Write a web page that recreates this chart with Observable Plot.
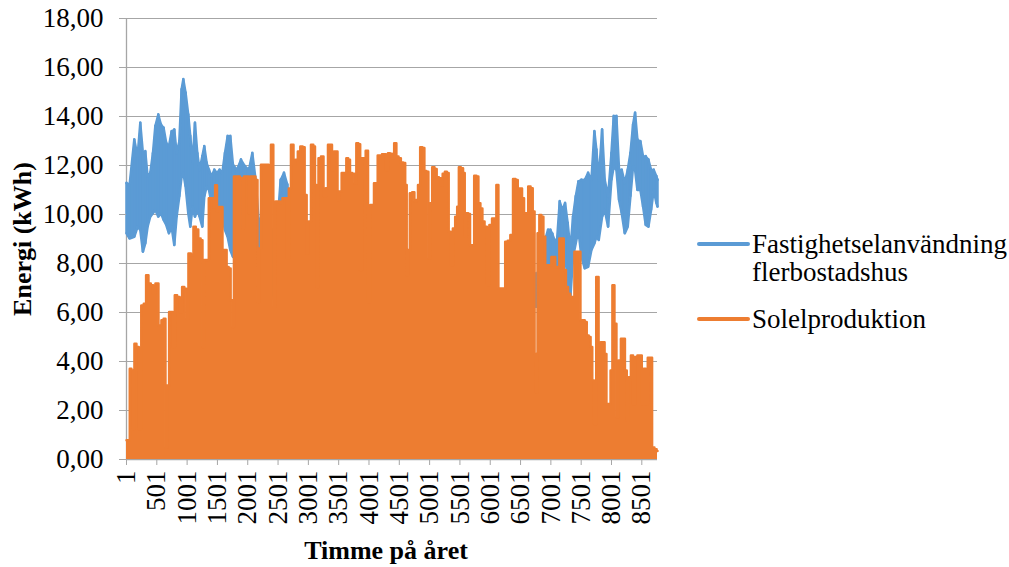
<!DOCTYPE html>
<html>
<head>
<meta charset="utf-8">
<script src="https://cdn.jsdelivr.net/npm/d3@7"></script>
<script src="https://cdn.jsdelivr.net/npm/@observablehq/plot@0.6"></script>
<style>
  html, body { margin: 0; padding: 0; background: #fff; }
  #wrap { position: relative; width: 1009px; height: 567px; font-family: 'Liberation Serif', serif; }
  #wrap svg { display: block; }
  .leg { position: absolute; left: 697px; font-family: 'Liberation Serif', serif; font-size: 27px; color: #000; line-height: 28px; }
  .leg .sw { position: absolute; left: 0; width: 53px; height: 3.5px; border-radius: 2px; }
  .leg .tx { position: absolute; left: 55px; white-space: nowrap; }
</style>
</head>
<body>
<div id="wrap"></div>
<script>
// ---- Data ----
const seriesNames = ["Fastighetselanvändning flerbostadshus", "Solelproduktion"];
const yTicks = [0, 2, 4, 6, 8, 10, 12, 14, 16, 18];
const xTicks = [1, 501, 1001, 1501, 2001, 2501, 3001, 3501, 4001, 4501, 5001, 5501, 6001, 6501, 7001, 7501, 8001, 8501];

// Solar production: daily peak envelope (hour of year, kWh)
const solarHour = [1,41,69,96,118,146,184,223,267,305,344,382,421,459,498,558,597,630,657,685,723,751,778,817,855,899,938,971,1004,1042,1086,1125,1163,1207,1240,1268,1301,1339,1378,1416,1449,1477,1510,1537,1570,1598,1636,1669,
1702,1735,1757,1790,1845,1900,1922,1955,1999,2027,2054,2109,2148,2175,2197,2241,2285,2329,2362,2406,2439,2483,2516,2555,2593,2632,2665,2692,2736,2775,2808,2846,2890,2923,2956,2989,3022,3066,3099,3121,3149,3187,3231,3270,3308,3341,3374,3407,3440,3473,
3490,3528,3572,3611,3644,3671,3704,3743,3776,3809,3842,3869,3897,3930,3963,4007,4040,4067,4100,4128,4161,4199,4232,4265,4298,4331,4364,4397,4436,4469,4507,4546,4584,4612,4634,4656,4694,4733,4766,4793,4826,4865,4898,4931,4964,4997,5024,5063,5101,5134,5173,5200,5233,
5272,5299,5332,5365,5404,5442,5470,5497,5536,5569,5591,5624,5651,5684,5717,5756,5789,5822,5855,5888,5926,5965,6009,6053,6086,6119,6152,6190,6229,6267,6311,6355,6399,6438,6471,6509,6542,6575,6608,6647,6685,6718,6746,6768,6795,6828,6861,6894,6922,6955,6993,7026,
7054,7092,7125,7158,7197,7230,7268,7301,7340,7373,7406,7439,7472,7505,7543,7576,7609,7642,7670,7697,7730,7769,7807,7840,7873,7901,7934,7972,8000,8033,8066,8099,8137,8176,8209,8236,8269,8302,8341,8374,8412,8445,8484,8517,8550,8583,8616,8654,8687,8731,8760];
const solarKWh = [0.79,0.79,3.70,3.63,1.24,4.72,4.59,1.24,6.29,6.36,7.52,7.18,7.11,6.77,7.18,5.47,5.68,5.75,0.49,3.02,6.02,6.02,4.59,6.70,6.63,6.02,7.04,6.97,5.75,8.41,8.34,9.50,9.39,9.02,8.95,4.59,8.14,8.14,10.66,10.66,10.31,11.19,10.12,10.31,10.31,8.55,8.55,7.86,
7.80,6.50,5.41,11.55,11.55,11.48,9.42,11.55,11.55,10.05,11.55,11.55,11.41,6.43,8.61,12.03,12.03,12.03,11.96,12.85,6.23,10.53,10.53,10.46,10.66,10.66,8.20,11.06,12.85,12.03,12.23,12.57,12.78,12.75,10.80,8.41,9.71,12.85,12.78,11.20,7.04,12.30,12.37,10.73,11.07,12.85,12.85,11.82,12.57,12.57,
10.59,10.94,11.69,11.69,12.30,12.23,11.69,11.66,11.28,12.91,12.87,7.73,12.30,12.30,12.60,6.43,10.39,10.39,11.28,11.28,12.41,12.41,12.46,12.46,11.82,12.50,12.48,12.30,12.91,12.37,12.30,12.12,12.10,11.20,7.52,8.55,10.87,10.91,10.53,10.59,11.20,12.75,12.71,11.78,11.75,8.20,10.46,11.93,11.86,11.52,11.48,11.20,11.66,
11.75,11.69,9.30,7.94,9.43,9.91,10.32,11.93,11.89,11.69,9.09,10.05,10.02,8.75,8.75,11.58,11.55,10.46,10.25,9.71,9.50,7.11,9.57,9.84,9.84,11.20,6.98,6.98,6.98,8.89,8.93,9.16,11.45,11.41,11.06,11.06,10.66,10.05,10.05,11.14,11.07,10.12,4.31,2.74,9.23,9.98,9.91,9.09,7.86,7.93,7.93,8.27,
8.27,7.86,7.86,9.02,9.02,7.73,7.04,6.77,6.63,6.63,8.48,8.48,8.48,5.68,5.68,5.61,5.06,5.00,4.59,3.22,1.45,7.45,4.04,4.79,4.79,4.31,2.27,2.27,3.63,7.11,5.54,1.72,4.04,4.93,4.93,3.63,1.58,3.36,4.25,2.27,4.18,4.25,4.25,2.27,3.70,2.27,4.15,4.15,0.49,0.42,0.35];

// Building electricity use: daily max / min envelope (hour of year, kWh)
const consHour = [1,52,129,184,228,272,311,349,393,437,476,525,569,613,657,701,745,789,828,872,910,938,976,1020,1053,1092,1130,1169,1207,1251,1284,1323,1361,1405,1449,1493,1537,1581,1625,1669,
1713,1757,1823,1889,1955,2021,2076,2131,2186,2241,2324,2395,2461,2544,2599,2654,2709,2791,
2900,3100,3300,3500,3700,3900,4100,4300,4500,4700,4900,5100,5300,5500,5700,5900,6100,6300,6500,6650,
6729,6784,6850,6955,6993,7026,
7059,7103,7147,7191,7235,7279,7323,7367,7411,7455,7505,7560,7615,7670,7719,7752,7791,7846,7890,7945,8000,8038,8082,8126,8170,8220,8269,8313,8357,8390,8429,8478,8522,8566,8610,8654,8698,8742,8760];
const consMax = [11.28,11.21,13.05,12.37,13.73,12.50,12.57,11.55,11.69,12.50,13.60,14.07,13.67,13.53,12.91,12.78,13.39,13.46,12.50,12.98,15.10,15.51,14.96,14.07,13.19,12.10,13.73,12.50,11.82,12.37,12.78,12.10,11.82,11.55,11.82,11.69,11.82,11.69,12.50,13.19,
13.19,12.03,11.82,12.23,11.96,11.82,12.50,11.41,9.57,10.05,9.78,9.37,8.61,11.41,11.69,11.21,7.73,7.45,
6.9,6.6,6.8,6.5,6.7,6.2,6.5,6.6,6.4,6.6,6.5,6.7,6.8,6.9,7.0,6.8,6.8,7.0,7.2,7.4,
7.59,7.59,8.50,9.37,9.37,9.20,
8.96,8.96,10.53,10.18,10.46,9.64,8.55,9.91,10.73,11.34,11.41,11.41,11.69,11.41,13.39,12.64,11.41,13.46,11.41,10.73,12.50,14.01,14.01,11.82,11.82,11.28,11.82,12.50,13.67,14.14,13.05,12.98,12.37,12.37,12.23,11.82,11.82,11.55,11.41];
const consMin = [9.23,9.02,9.09,9.50,9.37,8.48,8.82,9.50,9.91,10.05,10.18,9.91,10.05,9.78,9.57,9.23,9.50,8.75,9.91,10.73,11.55,11.69,11.14,10.05,9.50,10.32,9.91,10.18,9.91,9.50,10.73,11.14,11.00,10.46,10.18,10.32,10.05,9.91,9.37,9.09,
8.55,8.27,8.55,8.82,8.82,9.37,10.05,9.50,6.43,7.73,7.45,7.04,6.23,8.82,9.09,8.82,6.09,5.82,
5.6,5.4,5.5,5.3,5.5,5.1,5.3,5.4,5.2,5.4,5.3,5.5,5.6,5.6,5.8,5.6,5.7,5.9,6.0,6.1,
6.23,6.23,7.00,7.86,7.90,8.00,
8.27,6.84,7.73,8.27,8.48,7.18,6.63,8.27,8.82,9.37,8.27,7.80,7.86,8.55,8.82,9.09,8.96,9.91,10.18,9.50,11.41,11.96,11.82,10.59,10.05,9.23,9.50,10.73,11.96,11.82,11.00,11.00,10.32,9.57,9.50,10.18,11.00,10.46,10.32];

// ---- Tables built from the arrays ----
const solar = solarHour.map((h, i) => ({hour: h, kwh: solarKWh[i]}));
const cons = consHour.map((h, i) => ({hour: h, max: consMax[i], min: consMin[i]}));

const blue = "#5B9BD5", orange = "#ED7D31", grid = "#A6A6A6";
const fmt = d => d.toFixed(2).replace(".", ",");
const serif = "Liberation Serif";

const chart = Plot.plot({
  width: 1009,
  height: 567,
  marginLeft: 126,
  marginRight: 352,
  marginTop: 18,
  marginBottom: 108,
  style: {fontFamily: "'Liberation Serif', serif", fontSize: "27px", color: "#000", background: "#fff", overflow: "visible"},
  x: {domain: [1, 8760]},
  y: {domain: [0, 18]},
  marks: [
    Plot.gridY(yTicks, {stroke: grid, strokeOpacity: 1, strokeWidth: 1.2}),
    Plot.ruleX([1], {stroke: grid, strokeWidth: 1.3}),
    Plot.ruleY([0], {stroke: grid, strokeWidth: 1.3}),
    Plot.areaY(cons, {x: "hour", y1: "min", y2: "max", fill: blue}),
    Plot.ruleX(cons, {x: "hour", y1: "min", y2: "max", stroke: blue, strokeWidth: 2.5, strokeLinecap: "round"}),
    Plot.lineY(cons, {x: "hour", y: "max", stroke: blue, strokeWidth: 2.5, strokeLinejoin: "round", strokeLinecap: "round"}),
    Plot.lineY(cons, {x: "hour", y: "min", stroke: blue, strokeWidth: 2.5, strokeLinejoin: "round", strokeLinecap: "round"}),
    Plot.areaY(solar, {x: "hour", y: "kwh", fill: orange, curve: "step"}),
    Plot.lineY(solar, {x: "hour", y: "kwh", stroke: orange, strokeWidth: 2.5, curve: "step", strokeLinejoin: "round", strokeLinecap: "round"}),
    Plot.axisY({ticks: yTicks, tickFormat: fmt, tickSize: 7, tickPadding: 16, stroke: grid, label: null, fontSize: 27, fontFamily: serif}),
    Plot.axisX({ticks: xTicks, tickFormat: d => String(d), tickRotate: -90, tickSize: 6, tickPadding: 5, stroke: grid, label: null, fontSize: 27, fontFamily: serif}),
    Plot.text(["Energi (kWh)"], {frameAnchor: "left", textAnchor: "middle", dx: -104, dy: 0, rotate: -90, fontWeight: "bold", fontSize: 26, fontFamily: serif}),
    Plot.text(["Timme på året"], {frameAnchor: "bottom", textAnchor: "middle", lineAnchor: "middle", dy: 91, dx: -6, fontWeight: "bold", fontSize: 26, fontFamily: serif})
  ]
});

const wrap = document.getElementById("wrap");
wrap.appendChild(chart);

// Legend (HTML, to the right of the plot)
const legend = [
  {name: seriesNames[0], color: blue, lines: ["Fastighetselanvändning", "flerbostadshus"], top: 230},
  {name: seriesNames[1], color: orange, lines: ["Solelproduktion"], top: 305}
];
for (const item of legend) {
  const div = document.createElement("div");
  div.className = "leg";
  div.style.top = item.top + "px";
  const sw = document.createElement("div");
  sw.className = "sw";
  sw.style.background = item.color;
  sw.style.top = "12px";
  div.appendChild(sw);
  const tx = document.createElement("div");
  tx.className = "tx";
  tx.innerHTML = item.lines.join("<br>");
  div.appendChild(tx);
  wrap.appendChild(div);
}
</script>
</body>
</html>
